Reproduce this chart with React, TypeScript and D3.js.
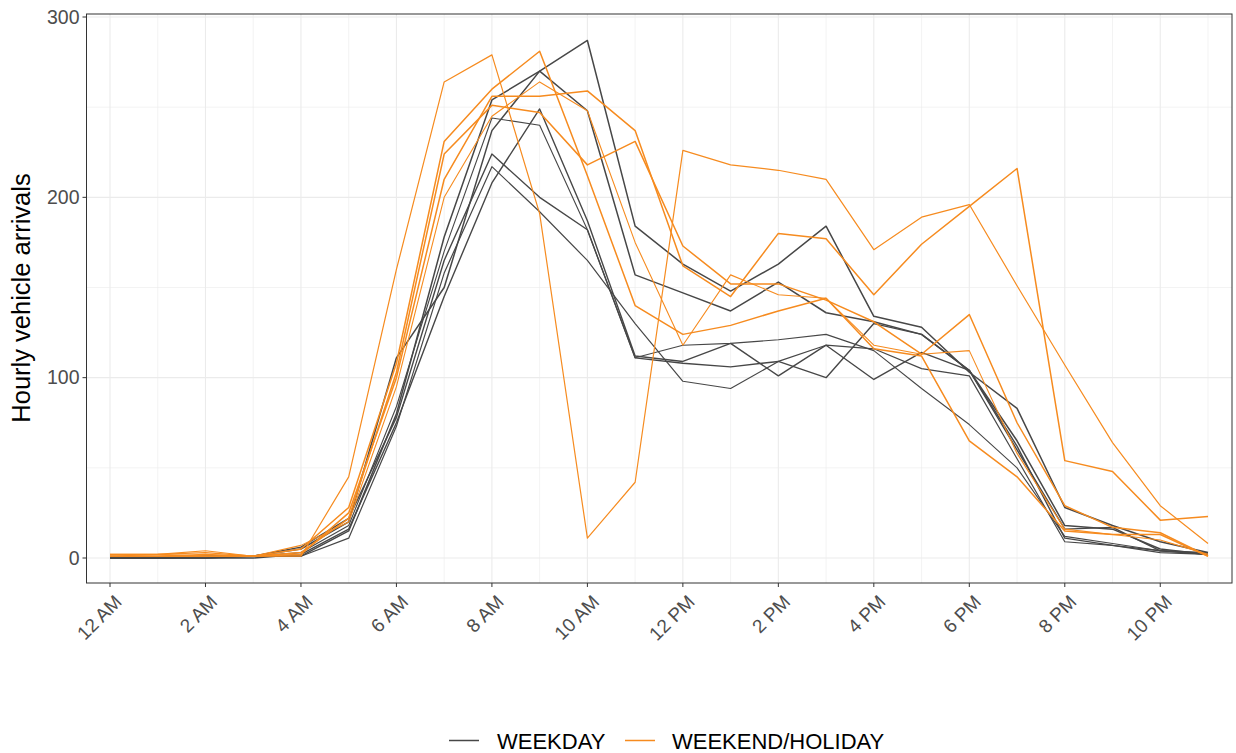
import React from "react";
import * as d3 from "d3";

const hours = d3.range(24);
const tickHours = [0, 2, 4, 6, 8, 10, 12, 14, 16, 18, 20, 22];
const tickLabels = ["12 AM", "2 AM", "4 AM", "6 AM", "8 AM", "10 AM", "12 PM", "2 PM", "4 PM", "6 PM", "8 PM", "10 PM"];
const yTicks = [0, 100, 200, 300];
const yMinor = [50, 150, 250];

const weekday1 = [0, 0, 0, 1, 5, 20, 111, 150, 237, 270, 287, 184, 163, 148, 163, 184, 134, 128, 103, 83, 28, 18, 9, 3];
const weekday2 = [0, 0, 1, 1, 1, 15, 80, 178, 254, 270, 248, 157, 147, 137, 153, 136, 131, 124, 104, 65, 18, 16, 5, 2];
const weekday3 = [1, 0, 0, 1, 3, 18, 84, 170, 244, 240, 182, 111, 118, 119, 121, 124, 115, 94, 74, 50, 12, 8, 4, 2];
const weekday4 = [0, 0, 1, 1, 6, 22, 78, 165, 224, 200, 182, 111, 108, 106, 109, 100, 130, 124, 104, 62, 11, 7, 4, 3];
const weekday5 = [0, 0, 1, 1, 1, 11, 73, 158, 217, 192, 165, 130, 98, 94, 109, 118, 116, 105, 101, 55, 9, 7, 3, 2];
const weekday6 = [0, 0, 0, 0, 2, 16, 75, 145, 208, 249, 187, 112, 109, 119, 101, 118, 99, 114, 104, 60, 16, 17, 4, 2];

const weekend1 = [2, 2, 3, 1, 1, 45, 160, 264, 279, 191, 11, 42, 226, 218, 215, 210, 171, 189, 196, 151, 107, 64, 29, 8];
const weekend2 = [1, 1, 2, 1, 5, 28, 108, 231, 260, 281, 212, 140, 124, 129, 137, 144, 116, 112, 65, 45, 15, 13, 13, 1];
const weekend3 = [1, 1, 1, 1, 2, 25, 100, 210, 256, 256, 259, 237, 162, 145, 180, 177, 146, 174, 195, 216, 54, 48, 21, 23];
const weekend4 = [2, 2, 1, 1, 3, 22, 103, 224, 251, 247, 218, 231, 173, 152, 152, 143, 131, 113, 135, 75, 29, 17, 14, 1];
const weekend5 = [1, 2, 4, 1, 7, 20, 95, 200, 245, 264, 248, 175, 118, 157, 146, 144, 118, 113, 115, 58, 16, 13, 10, 2];

const weekdaySeries = [weekday1, weekday2, weekday3, weekday4, weekday5, weekday6];
const weekendSeries = [weekend1, weekend2, weekend3, weekend4, weekend5];
const weekdayWidths = [1.5, 1.5, 1.1, 1.4, 1.2, 1.4];
const weekendWidths = [1.2, 1.5, 1.5, 1.5, 1.1];

const GRAY = "#474747";
const ORANGE = "#F68B1F";
const FONT = "'Liberation Sans', Arial, sans-serif";

export default function App() {
  const W = 1236, H = 753;
  const left = 86.5, right = 1232, top = 14, bottom = 583;
  const x = d3.scaleLinear().domain([0, 23]).range([110, 1208]);
  const y = d3.scaleLinear().domain([0, 300]).range([558, 17]);
  const line = d3.line<number>().x((_, i) => x(hours[i])).y((d) => y(d));

  return (
    <svg width={W} height={H} style={{ position: "absolute", left: 0, top: 0, background: "#fff" }} fontFamily={FONT}>
      <rect x={0} y={0} width={W} height={H} fill="#fff" />
      {yMinor.map((v) => (
        <line key={"ym" + v} x1={left} x2={right} y1={y(v)} y2={y(v)} stroke="#EBEBEB" strokeWidth={0.6} />
      ))}
      {hours.filter((h) => h % 2 === 1).map((h) => (
        <line key={"xm" + h} x1={x(h)} x2={x(h)} y1={top} y2={bottom} stroke="#EBEBEB" strokeWidth={0.6} />
      ))}
      {yTicks.map((v) => (
        <line key={"yM" + v} x1={left} x2={right} y1={y(v)} y2={y(v)} stroke="#EBEBEB" strokeWidth={1.1} />
      ))}
      {tickHours.map((h) => (
        <line key={"xM" + h} x1={x(h)} x2={x(h)} y1={top} y2={bottom} stroke="#EBEBEB" strokeWidth={1.1} />
      ))}
      {weekdaySeries.map((s, i) => (
        <path key={"wd" + i} d={line(s) || ""} fill="none" stroke={GRAY} strokeWidth={weekdayWidths[i]} strokeLinejoin="round" />
      ))}
      {weekendSeries.map((s, i) => (
        <path key={"we" + i} d={line(s) || ""} fill="none" stroke={ORANGE} strokeWidth={weekendWidths[i]} strokeLinejoin="round" />
      ))}
      <rect x={left} y={top} width={right - left} height={bottom - top} fill="none" stroke="#333333" strokeWidth={1} />
      {yTicks.map((v) => (
        <g key={"yt" + v}>
          <line x1={left - 4} x2={left} y1={y(v)} y2={y(v)} stroke="#333333" strokeWidth={1} />
          <text x={left - 7} y={y(v)} dy="0.35em" textAnchor="end" fontSize={19.5} fill="#4D4D4D">{v}</text>
        </g>
      ))}
      {tickHours.map((h, i) => (
        <g key={"xt" + h}>
          <line x1={x(h)} x2={x(h)} y1={bottom} y2={bottom + 4} stroke="#333333" strokeWidth={1} />
          <text
            transform={`translate(${x(h) + 13},${bottom + 20}) rotate(-45)`}
            textAnchor="end"
            fontSize={19}
            fill="#4D4D4D"
          >
            {tickLabels[i]}
          </text>
        </g>
      ))}
      <text transform={`translate(30,298) rotate(-90)`} textAnchor="middle" fontSize={25.5} fill="#000">
        Hourly vehicle arrivals
      </text>
      <line x1={449} x2={479} y1={740.5} y2={740.5} stroke={GRAY} strokeWidth={1.5} />
      <text x={497} y={748.5} fontSize={22} fill="#000">WEEKDAY</text>
      <line x1={625} x2={655} y1={740.5} y2={740.5} stroke={ORANGE} strokeWidth={1.5} />
      <text x={672} y={748.5} fontSize={22} fill="#000">WEEKEND/HOLIDAY</text>
    </svg>
  );
}
